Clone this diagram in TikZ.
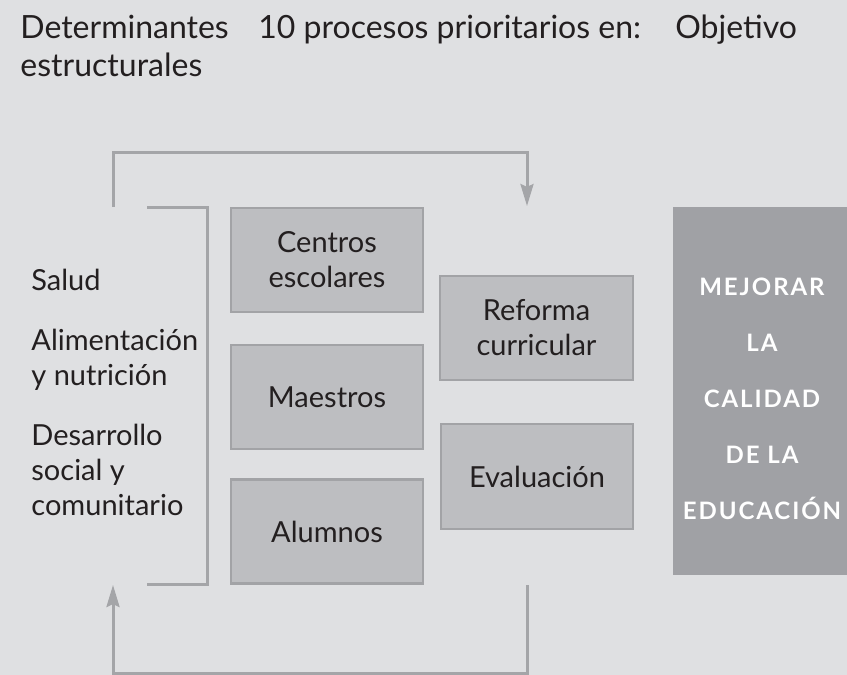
\documentclass[tikz,border=0pt]{standalone}
\usepackage{fontspec}
\setmainfont{Lato}
\newfontfamily\metafont[LetterSpace=8]{Lato}
\usetikzlibrary{arrows.meta,positioning}
\definecolor{fondo}{HTML}{DFE0E2}
\definecolor{caja}{HTML}{BDBEC1}
\definecolor{borde}{HTML}{A2A3A6}
\definecolor{oscuro}{HTML}{A0A1A5}
\definecolor{linea}{HTML}{A4A5A8}
\definecolor{tinta}{HTML}{231F20}

\begin{document}
\begin{tikzpicture}[x=0.5pt,y=-0.5pt,
  proceso/.style={draw=borde,fill=caja,line width=1.2pt,minimum width=96pt,minimum height=52pt,
    align=center,text=tinta,font=\fontsize{14.5}{17.5}\selectfont},
  factor/.style={anchor=base west,inner sep=0pt,align=left,text=tinta,font=\fontsize{14.5}{17.5}\selectfont},
  titulo/.style={anchor=base west,inner sep=0pt,align=left,text=tinta,font=\fontsize{16}{19}\selectfont},
  trazo/.style={draw=linea,line width=1.5pt},
  flecha/.style={trazo,-{Stealth[length=11pt,width=6.5pt,inset=1.5pt]}}]
  \fill[fondo] (0,0) rectangle (847,675);
  \useasboundingbox (0,0) rectangle (847,675);

  \node[titulo] (determinantes) at (20,76) {Determinantes\\estructurales};
  \node[titulo] (procesos) at (258,38) {10 procesos prioritarios en:};
  \node[titulo] (objetivo) at (675,38) {Objetivo};

  \node[factor] (salud) at (31,290) {Salud};
  \node[factor] (alimentacion) at (31,385) {Alimentación\\y nutrición};
  \node[factor] (desarrollo) at (31,515) {Desarrollo\\social y\\comunitario};

  \draw[trazo] (147,207) -- (207,207) -- (207,584) -- (147,584);

  \coordinate (salidaA) at (113,207);
  \coordinate (llegadaA) at (527,206);
  \coordinate (salidaB) at (527,585);
  \coordinate (llegadaB) at (113,585);
  \draw[flecha] (salidaA) -- ++(0,-55) -| (llegadaA);
  \draw[flecha] (salidaB) -- ++(0,88) -| (llegadaB);

  \node[proceso] (centros) at (327,260) {Centros\\escolares};
  \node[proceso] (maestros) at (327,397) {Maestros};
  \node[proceso] (alumnos) at (327,531.5) {Alumnos};
  \node[proceso,minimum width=96.5pt] (reforma) at (536.5,328) {Reforma\\curricular};
  \node[proceso,minimum height=52.5pt] (evaluacion) at (537,476.5) {Evaluación};

  \node[fill=oscuro,minimum width=89pt,minimum height=184pt,inner sep=0pt] (meta) at (762,391) {};
  \node[align=center,text=white,font=\metafont\bfseries\fontsize{12}{28}\selectfont]
    (metatexto) at ([yshift=-4pt]meta.center) {MEJORAR\\LA\\CALIDAD\\DE LA\\EDUCACIÓN};
\end{tikzpicture}
\end{document}
